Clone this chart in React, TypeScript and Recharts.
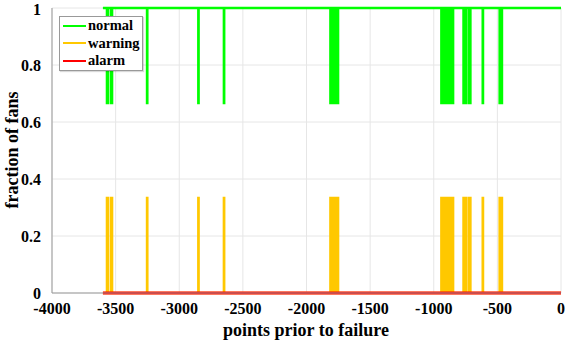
import React from 'react'
import { LineChart, Line, XAxis, YAxis, CartesianGrid, Label } from 'recharts'

// x ticks / y ticks
const xTicks = [-4000, -3500, -3000, -2500, -2000, -1500, -1000, -500, 0]
const yTicks = [0, 0.2, 0.4, 0.6, 0.8, 1]

// observed window (points prior to failure)
const startX = -3600
const endX = 0

// points where one fan of three leaves "normal" and goes to "warning"
const dipStarts = [
  -3568, -3562, -3536, -3530,
  -3253, -2850, -2649,
  -1812, -1802, -1792, -1782, -1772, -1762, -1754,
  -940, -930, -920, -910, -900, -890, -880, -870, -860, -850,
  -766, -758, -750, -726, -714,
  -615,
  -482, -474, -466,
]
const dipWidth = 2

// fractions during normal state and during a dip
const normalLevels = [1, 0.667]
const warningLevels = [0, 0.333]
const alarmLevels = [0, 0]

const GREEN = '#00ff00'
const GOLD = '#ffc800'
const RED = '#ff0000'
const FONT = 'Liberation Serif'

function buildData() {
  const rows = [{ x: startX, normal: normalLevels[0], warning: warningLevels[0], alarm: alarmLevels[0] }]
  dipStarts.forEach(d => {
    rows.push({ x: d, normal: normalLevels[1], warning: warningLevels[1], alarm: alarmLevels[1] })
    rows.push({ x: d + dipWidth, normal: normalLevels[0], warning: warningLevels[0], alarm: alarmLevels[0] })
  })
  rows.push({ x: endX, normal: normalLevels[0], warning: warningLevels[0], alarm: alarmLevels[0] })
  return rows
}

const legendItems = [
  { name: 'normal', color: GREEN },
  { name: 'warning', color: GOLD },
  { name: 'alarm', color: RED },
]

function LegendBox() {
  return (
    <div style={s.legend}>
      {legendItems.map(it => (
        <div key={it.name} style={s.legendRow}>
          <span style={{ ...s.legendLine, background: it.color }} />
          <span>{it.name}</span>
        </div>
      ))}
    </div>
  )
}

export default function App() {
  const data = buildData()
  const tick = { fill: '#000', fontSize: 16, fontWeight: 700, style: { fontFamily: FONT } }

  return (
    <div style={{ position: 'absolute', left: 0, top: 0, width: 579, height: 342, fontFamily: FONT }}>
      <LineChart width={579} height={342} data={data} margin={{ top: 8, right: 18, left: 0, bottom: 0 }}>
        <CartesianGrid stroke="#e6e6e6" strokeWidth={1} />
        <XAxis
          dataKey="x"
          type="number"
          domain={[-4000, 0]}
          ticks={xTicks}
          height={49}
          tick={tick}
          tickLine={false}
          tickMargin={4}
          axisLine={{ stroke: '#999' }}
        >
          <Label
            content={() => (
              <text x={306} y={336} textAnchor="middle" fontSize={18} fontWeight={700} style={{ fontFamily: FONT }}>
                points prior to failure
              </text>
            )}
          />
        </XAxis>
        <YAxis
          type="number"
          domain={[0, 1]}
          ticks={yTicks}
          width={52}
          tick={tick}
          tickLine={false}
          tickMargin={5}
          axisLine={{ stroke: '#999' }}
        >
          <Label
            content={() => (
              <text
                x={18}
                y={150}
                transform="rotate(-90 18 150)"
                textAnchor="middle"
                fontSize={18}
                fontWeight={700}
                style={{ fontFamily: FONT }}
              >
                fraction of fans
              </text>
            )}
          />
        </YAxis>
        <Line type="stepAfter" dataKey="normal" stroke={GREEN} strokeWidth={2.5} dot={false} isAnimationActive={false} />
        <Line type="stepAfter" dataKey="warning" stroke={GOLD} strokeWidth={2.5} dot={false} isAnimationActive={false} />
        <Line type="stepAfter" dataKey="alarm" stroke={RED} strokeWidth={3} dot={false} isAnimationActive={false} />
      </LineChart>
      <LegendBox />
    </div>
  )
}

const s: Record<string, React.CSSProperties> = {
  legend: {
    position: 'absolute',
    left: 59,
    top: 16,
    width: 84,
    boxSizing: 'border-box',
    background: '#fff',
    border: '1px solid #999',
    padding: '0px 0 0 3px',
    fontFamily: FONT,
    fontWeight: 700,
    fontSize: 14.5,
    lineHeight: '17.5px',
    boxShadow: '1px 1px 1px rgba(0,0,0,0.15)',
  },
  legendRow: { display: 'flex', alignItems: 'center', gap: 2 },
  legendLine: { width: 23, height: 2, display: 'inline-block' },
}
